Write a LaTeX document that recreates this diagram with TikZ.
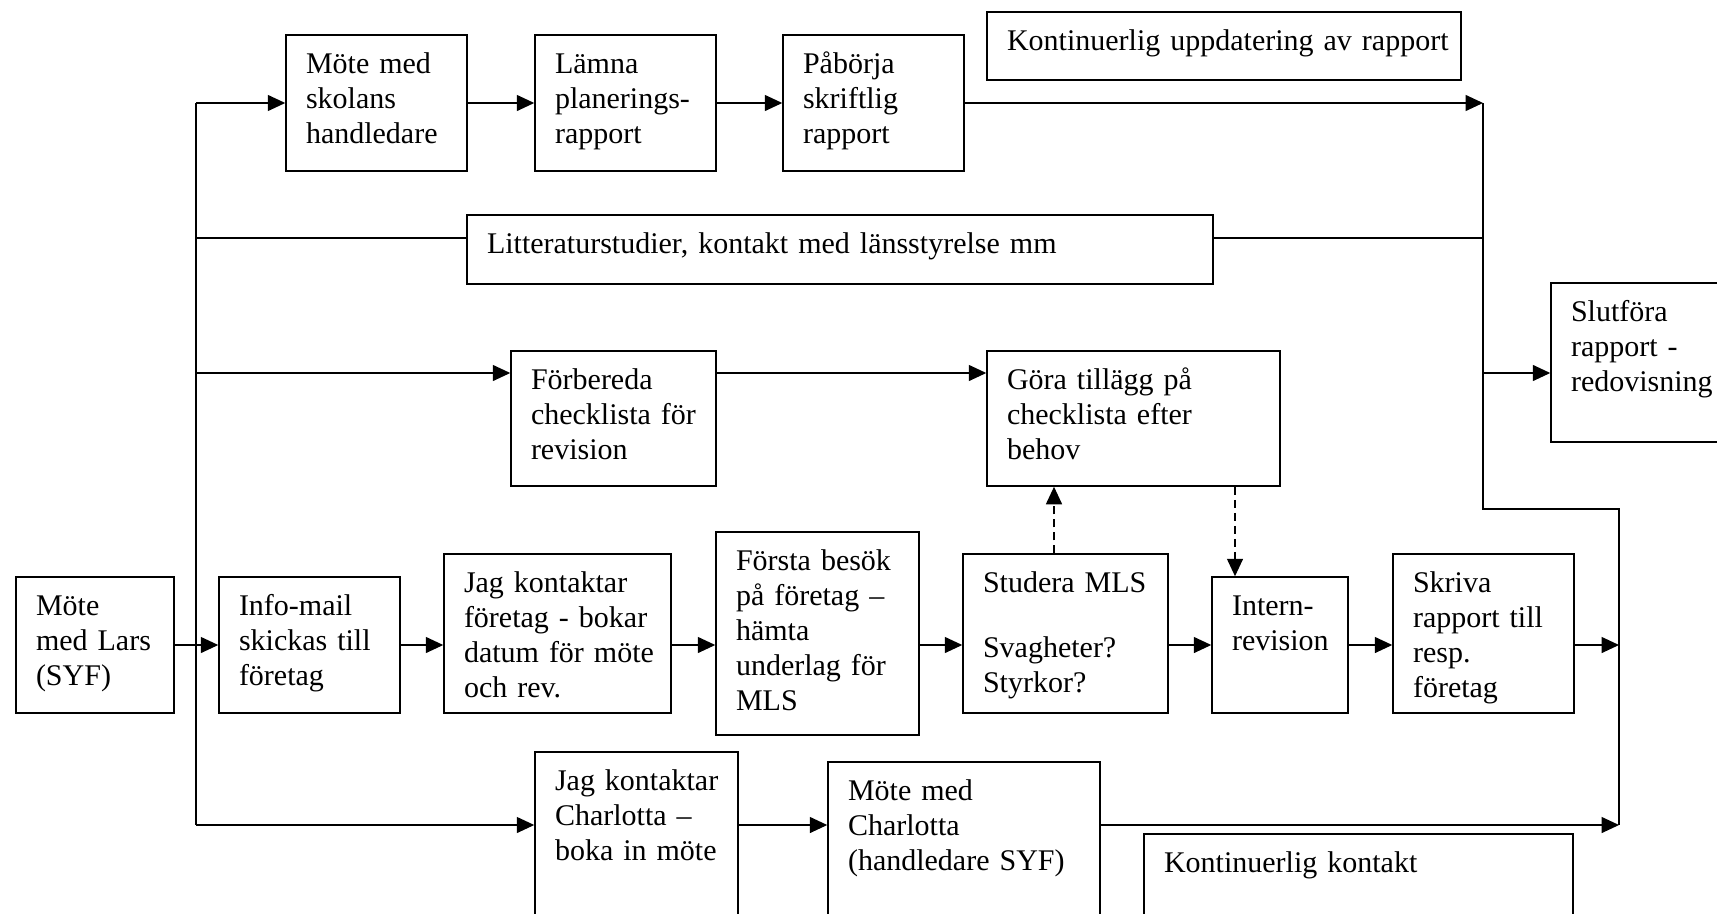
\documentclass[tikz,border=0pt]{standalone}
\usepackage{fontspec}
\setmainfont{Liberation Serif}
\usetikzlibrary{arrows.meta, fit, positioning}

\begin{document}
\begin{tikzpicture}[x=0.4pt, y=-0.4pt, line width=0.6pt,
    >={Triangle[length=7pt,width=6.4pt]},
    box/.style={draw, inner sep=0pt, fit={#1}},
    txt/.style={anchor=base west, inner sep=0pt, align=left, text width=12cm,
      font=\fontsize{12}{14}\selectfont},
    dashline/.style={dash pattern=on 3.2pt off 2pt}]

		\useasboundingbox (0,0) rectangle (1717,913);

		\node[box={(16,577) (174,713)}] (A) {};
		\node[box={(286,35) (467,171)}] (B1) {};
		\node[box={(535,35) (716,171)}] (B2) {};
		\node[box={(783,35) (964,171)}] (B3) {};
		\node[box={(987,12) (1461,80)}] (G) {};
		\node[box={(467,215) (1213,284)}] (C) {};
		\node[box={(511,351) (716,486)}] (D1) {};
		\node[box={(987,351) (1280,486)}] (D2) {};
		\node[box={(1551,283) (1740,442)}] (S) {};
		\node[box={(219,577) (400,713)}] (E1) {};
		\node[box={(444,554) (671,713)}] (E2) {};
		\node[box={(716,532) (919,735)}] (E3) {};
		\node[box={(963,554) (1168,713)}] (E4) {};
		\node[box={(1212,577) (1348,713)}] (E5) {};
		\node[box={(1393,554) (1574,713)}] (E6) {};
		\node[box={(535,752) (738,940)}] (F1) {};
		\node[box={(828,762) (1100,940)}] (F2) {};
		\node[box={(1144,834) (1573,940)}] (H) {};

		\node[txt] (tA) at ([shift={(8pt,-15.6pt)}]A.north west) {Möte\\med Lars\\(SYF)};
		\node[txt] (tB1) at ([shift={(8pt,-15.6pt)}]B1.north west) {Möte med\\skolans\\handledare};
		\node[txt] (tB2) at ([shift={(8pt,-15.6pt)}]B2.north west) {Lämna\\planerings-\\rapport};
		\node[txt] (tB3) at ([shift={(8pt,-15.6pt)}]B3.north west) {Påbörja\\skriftlig\\rapport};
		\node[txt] (tG) at ([shift={(8pt,-15.6pt)}]G.north west) {Kontinuerlig uppdatering av rapport};
		\node[txt] (tC) at ([shift={(8pt,-15.6pt)}]C.north west) {Litteraturstudier, kontakt med länsstyrelse mm};
		\node[txt] (tD1) at ([shift={(8pt,-15.6pt)}]D1.north west) {Förbereda\\checklista för\\revision};
		\node[txt] (tD2) at ([shift={(8pt,-15.6pt)}]D2.north west) {Göra tillägg på\\checklista efter\\behov};
		\node[txt] (tS) at ([shift={(8pt,-15.6pt)}]S.north west) {Slutföra\\rapport -\\redovisning};
		\node[txt] (tE1) at ([shift={(8pt,-15.6pt)}]E1.north west) {Info-mail\\skickas till\\företag};
		\node[txt] (tE2) at ([shift={(8pt,-15.6pt)}]E2.north west) {Jag kontaktar\\företag - bokar\\datum för möte\\och rev.};
		\node[txt] (tE3) at ([shift={(8pt,-15.6pt)}]E3.north west) {Första besök\\på företag –\\hämta\\underlag för\\MLS};
		\node[txt] (tE4) at ([shift={(8pt,-15.6pt)}]E4.north west) {Studera MLS\\[12pt]Svagheter?\\Styrkor?};
		\node[txt] (tE5) at ([shift={(8pt,-15.6pt)}]E5.north west) {Intern-\\revision};
		\node[txt] (tE6) at ([shift={(8pt,-15.6pt)}]E6.north west) {Skriva\\rapport till\\resp.\\företag};
		\node[txt] (tF1) at ([shift={(8pt,-15.6pt)}]F1.north west) {Jag kontaktar\\Charlotta –\\boka in möte};
		\node[txt] (tF2) at ([shift={(8pt,-15.6pt)}]F2.north west) {Möte med\\Charlotta\\(handledare SYF)};
		\node[txt] (tH) at ([shift={(8pt,-15.6pt)}]H.north west) {Kontinuerlig kontakt};

		\coordinate (T1) at (196,103);
		\coordinate (T2) at (196,825);
		\coordinate (R1) at (196,238);
		\coordinate (R2) at (196,373);
		\coordinate (R3) at (196,645);
		\coordinate (J1) at (1483,103);
		\coordinate (J2) at (1483,509);
		\coordinate (K1) at (1619,509);
		\coordinate (K2) at (1619,825);
		\coordinate (U) at (1054,0);
		\coordinate (V) at (1235,0);

		\draw (T1) -- (T2);
		\draw [->] (T1) -- (B1);
		\draw [->] (B1) -- (B2);
		\draw [->] (B2) -- (B3);
		\draw [->] (B3) -- (J1);
		\draw (R1) -- (C.west |- R1);
		\draw (C.east |- R1) -- (J1 |- R1);
		\draw [->] (R2) -- (D1.west |- R2);
		\draw [->] (D1.east |- R2) -- (D2.west |- R2);
		\draw [->] (J1 |- R2) -- (S.west |- R2);
		\draw (J1) -- (J2) -- (K1) -- (K2);
		\draw [->] (A) -- (E1);
		\draw [->] (E1.east |- R3) -- (E2.west |- R3);
		\draw [->] (E2.east |- R3) -- (E3.west |- R3);
		\draw [->] (E3.east |- R3) -- (E4.west |- R3);
		\draw [->] (E4.east |- R3) -- (E5.west |- R3);
		\draw [->] (E5.east |- R3) -- (E6.west |- R3);
		\draw [->] (E6.east |- R3) -- (K1 |- R3);
		\draw [->] (T2) -- (F1.west |- T2);
		\draw [->] (F1.east |- T2) -- (F2.west |- T2);
		\draw [->] (F2.east |- T2) -- (K2);
		\draw [->, dashline] (E4.north -| U) -- (D2.south -| U);
		\draw [->, dashline] (D2.south -| V) -- (E5.north -| V);

		\end{tikzpicture}
\end{document}
